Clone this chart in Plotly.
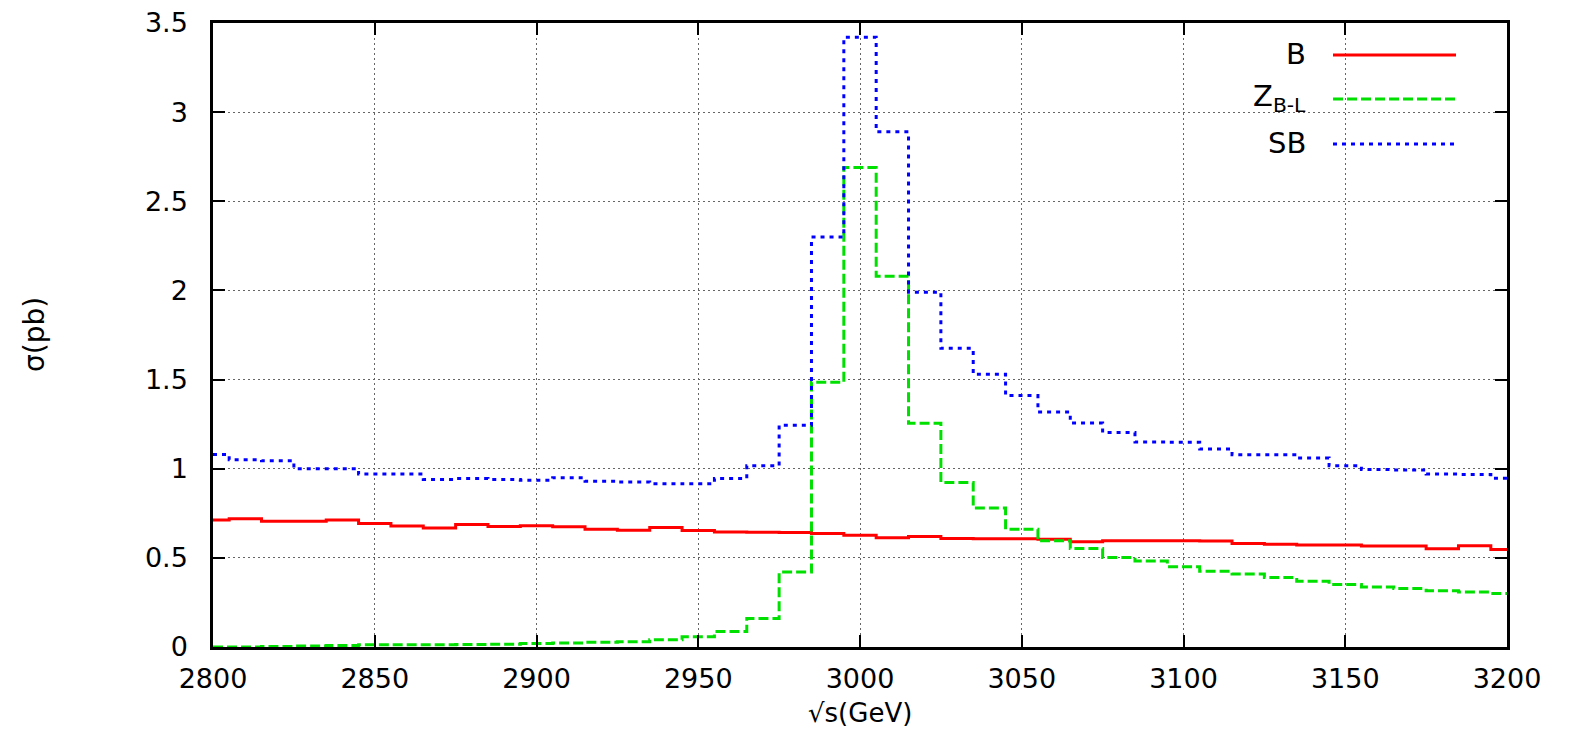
import plotly.graph_objects as go

# bin centres (10 GeV bins)
energy = list(range(2800, 3201, 10))

sigma_B = [0.712, 0.720, 0.705, 0.705, 0.712, 0.693, 0.678, 0.668, 0.687, 0.676,
           0.680, 0.674, 0.660, 0.655, 0.670, 0.654, 0.645, 0.643, 0.642, 0.636,
           0.627, 0.613, 0.620, 0.608, 0.607, 0.607, 0.605, 0.590, 0.596, 0.596,
           0.596, 0.594, 0.581, 0.577, 0.572, 0.572, 0.566, 0.566, 0.551, 0.568,
           0.547]

sigma_Z = [0.000, 0.000, 0.003, 0.005, 0.009, 0.012, 0.013, 0.013, 0.014, 0.016,
           0.020, 0.022, 0.026, 0.030, 0.040, 0.057, 0.087, 0.160, 0.420, 1.485,
           2.690, 2.080, 1.255, 0.923, 0.780, 0.660, 0.596, 0.553, 0.502, 0.482,
           0.450, 0.425, 0.409, 0.390, 0.369, 0.350, 0.337, 0.328, 0.315, 0.309,
           0.300]

sigma_SB = [1.080, 1.050, 1.045, 1.000, 1.000, 0.970, 0.970, 0.940, 0.945, 0.940,
            0.935, 0.950, 0.930, 0.925, 0.915, 0.916, 0.945, 1.017, 1.244, 2.300,
            3.420, 2.890, 1.990, 1.675, 1.530, 1.410, 1.318, 1.256, 1.203, 1.150,
            1.148, 1.110, 1.078, 1.078, 1.060, 1.016, 0.995, 0.993, 0.970, 0.968,
            0.947]

series_names = ["B", "Z<sub>B-L</sub>", "SB"]
x_ticks = [2800, 2850, 2900, 2950, 3000, 3050, 3100, 3150, 3200]
y_ticks = [0, 0.5, 1, 1.5, 2, 2.5, 3, 3.5]
y_ticktext = ["0", "0.5", "1", "1.5", "2", "2.5", "3", "3.5"]

colors = ["#ff0000", "#00e000", "#0000ff"]
dashes = ["solid", "10px,4px", "4px,5px"]

fig = go.Figure()
for name, vals, col, dsh in zip(series_names, [sigma_B, sigma_Z, sigma_SB], colors, dashes):
    fig.add_trace(go.Scatter(x=energy, y=vals, mode="lines", name=name,
                             line=dict(color=col, width=3, dash=dsh, shape="hvh"),
                             showlegend=False))

OFF = 8  # default page body margin
W, H = 1569 - 2 * OFF, 736 - 2 * OFF
# plot area in absolute page pixels
AL, AR, AT, AB = 213, 1507, 23, 647
L, T = AL - OFF, AT - OFF
R = W - (AR - OFF)
B = H - (AB - OFF)
pw = AR - AL
ph = AB - AT

def px(xa):
    return (xa - AL) / pw

def py(ya):
    return (AB - ya) / ph

tickfont = dict(family="DejaVu Sans", size=27, color="black")

fig.update_layout(
    width=W, height=H,
    margin=dict(l=L, r=R, t=T, b=B, autoexpand=False),
    plot_bgcolor="white", paper_bgcolor="white",
    xaxis=dict(range=[2800, 3200], tickvals=x_ticks, ticktext=[str(v) for v in x_ticks],
               showline=True, linecolor="black", linewidth=2.5, mirror="ticks",
               ticks="inside", ticklen=12, tickwidth=2, tickcolor="black",
               showgrid=True, gridcolor="#666666", gridwidth=1, griddash="2px,3px",
               zeroline=False, tickfont=tickfont, ticklabelstandoff=6,
               ticklabeloverflow="allow"),
    yaxis=dict(range=[0, 3.5], tickvals=y_ticks, ticktext=y_ticktext,
               showline=True, linecolor="black", linewidth=2.5, mirror="ticks",
               ticks="inside", ticklen=12, tickwidth=2, tickcolor="black",
               showgrid=True, gridcolor="#666666", gridwidth=1, griddash="2px,3px",
               zeroline=False, tickfont=tickfont, ticklabelstandoff=17,
               ticklabeloverflow="allow"),
)

# axis titles
fig.add_annotation(text="σ(pb)", xref="paper", yref="paper", x=px(34), y=0.5,
                   textangle=-90, showarrow=False, xanchor="center", yanchor="middle",
                   font=dict(family="DejaVu Sans", size=28, color="black"))
fig.add_annotation(text="√s(GeV)", xref="paper", yref="paper", x=0.5, y=py(713),
                   showarrow=False, xanchor="center", yanchor="middle",
                   font=dict(family="DejaVu Sans", size=26, color="black"))

# legend (text left of sample line, gnuplot style)
leg_text_y = [54, 98, 143]
leg_line_y = [55, 99, 144]
for name, col, dsh, ty, ly in zip(series_names, colors, dashes, leg_text_y, leg_line_y):
    fig.add_annotation(text=name, xref="paper", yref="paper", x=px(1308), y=py(ty),
                       showarrow=False, xanchor="right", yanchor="middle",
                       font=dict(family="DejaVu Sans", size=29, color="black"))
    fig.add_shape(type="line", xref="paper", yref="paper",
                  x0=px(1333), x1=px(1456), y0=py(ly), y1=py(ly),
                  line=dict(color=col, width=3, dash=dsh))

fig.write_html("out.html")
